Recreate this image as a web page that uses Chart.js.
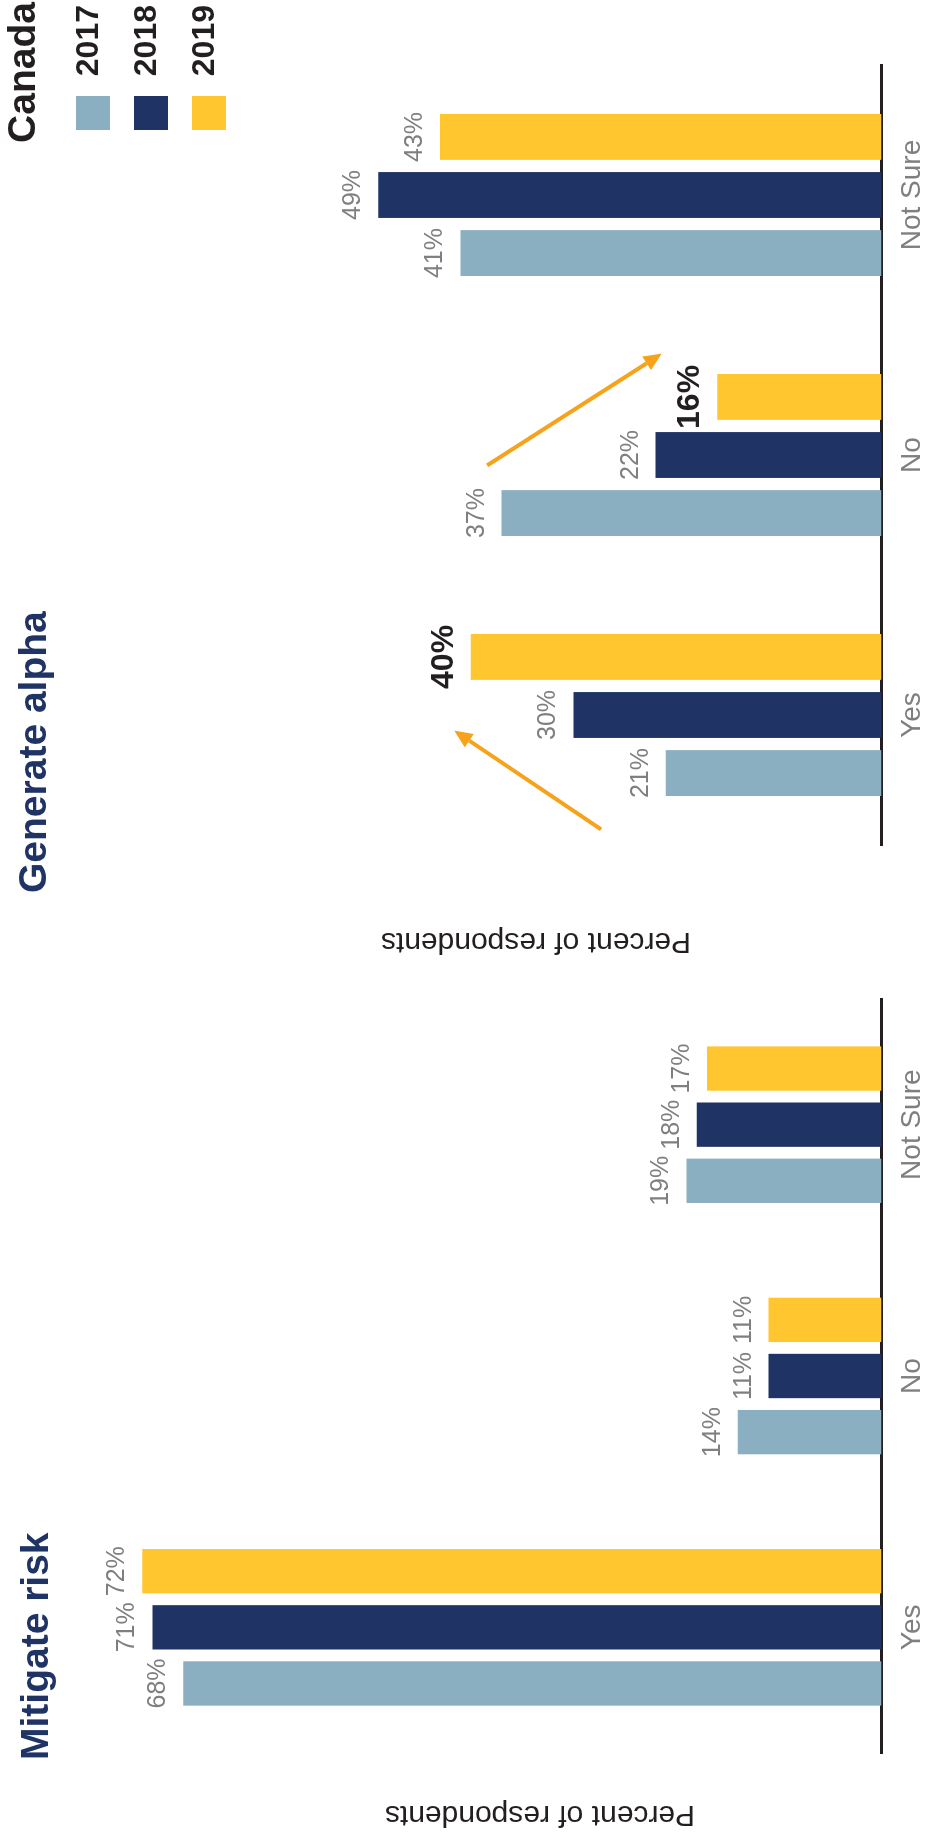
<!DOCTYPE html>
<html>
<head>
<meta charset="utf-8">
<script src="https://cdn.jsdelivr.net/npm/chart.js@4.4.1/dist/chart.umd.min.js"></script>
<style>
  html, body { margin: 0; padding: 0; background: #fff; }
  body { width: 930px; height: 1836px; overflow: hidden; position: relative; }
  /* the two panels are laid out landscape, then turned to fit the portrait page */
  #sheet { position: absolute; left: 0; top: 0; width: 1836px; height: 930px;
           transform-origin: 0 0; transform: translateY(1836px) rotate(-90deg); }
  #sheet canvas { position: absolute; top: 0; }
  #riskChart { left: 0; }
  #alphaChart { left: 870px; }
</style>
</head>
<body>
<div id="sheet">
  <canvas id="riskChart" width="870" height="930"></canvas>
  <canvas id="alphaChart" width="966" height="930"></canvas>
</div>
<script>
const categories = ['Yes', 'No', 'Not Sure'];
const years = ['2017', '2018', '2019'];

// Mitigate risk, percent of respondents
const risk2017 = [68, 14, 19];
const risk2018 = [71, 11, 18];
const risk2019 = [72, 11, 17];

// Generate alpha, percent of respondents
const alpha2017 = [21, 37, 41];
const alpha2018 = [30, 22, 49];
const alpha2019 = [40, 16, 43];

const yearColors = ['#8AAFC0', '#1F3464', '#FFC62F'];
const FONT = '"Liberation Sans", Arial, sans-serif';

Chart.defaults.font.family = FONT;

// arrows drawn over the alpha panel: [category, offset in category widths, value]
const alphaArrows = [
  { from: [0, -0.44, 27.3], to: [0, -0.06, 41.6] },
  { from: [1, -0.04, 38.4], to: [1, 0.39, 21.4] }
];

function makeDatasets(series) {
  return series.map((data, i) => ({
    label: years[i],
    data: data,
    backgroundColor: yearColors[i],
    borderWidth: 0,
    categoryPercentage: 0.67,
    barPercentage: 0.79
  }));
}

// value labels above every bar, with some called out in bold
const makeBarValues = (highlight) => ({
  id: 'barValues',
  afterDatasetsDraw(chart) {
    const ctx = chart.ctx;
    ctx.save();
    ctx.textAlign = 'center';
    ctx.textBaseline = 'alphabetic';
    chart.data.datasets.forEach((ds, i) => {
      chart.getDatasetMeta(i).data.forEach((bar, j) => {
        const hot = highlight.some(h => h[0] === i && h[1] === j);
        ctx.font = hot ? 'bold 32px ' + FONT : '25px ' + FONT;
        ctx.fillStyle = hot ? '#231F20' : '#7F7F7F';
        ctx.fillText(ds.data[j] + '%', bar.x, bar.y - 18);
      });
    });
    ctx.restore();
  }
});

// panel heading and the vertical axis title
const makePanelText = (p) => ({
  id: 'panelText',
  afterDraw(chart) {
    const ctx = chart.ctx;
    ctx.save();
    ctx.font = 'bold 39px ' + FONT;
    ctx.fillStyle = '#1F3464';
    ctx.textAlign = 'left';
    ctx.textBaseline = 'alphabetic';
    ctx.fillText(p.title, p.titleX, p.titleY);

    ctx.translate(p.axisX, p.axisY);
    ctx.rotate(-Math.PI / 2);
    ctx.font = '30px ' + FONT;
    ctx.fillStyle = '#231F20';
    ctx.textAlign = 'center';
    ctx.fillText('Percent of respondents', 0, 0);
    ctx.restore();
  }
});

const arrowPlugin = {
  id: 'arrows',
  afterDatasetsDraw(chart) {
    const ctx = chart.ctx;
    const xs = chart.scales.x, ys = chart.scales.y;
    const cw = xs.width / categories.length;
    const pt = (a) => [xs.getPixelForValue(a[0]) + a[1] * cw, ys.getPixelForValue(a[2])];
    ctx.save();
    ctx.strokeStyle = '#F6A31B';
    ctx.fillStyle = '#F6A31B';
    ctx.lineWidth = 4;
    alphaArrows.forEach(a => {
      const [x0, y0] = pt(a.from);
      const [x1, y1] = pt(a.to);
      const ang = Math.atan2(y1 - y0, x1 - x0);
      const head = 18, half = 8;
      const bx = x1 - head * Math.cos(ang), by = y1 - head * Math.sin(ang);
      ctx.beginPath();
      ctx.moveTo(x0, y0);
      ctx.lineTo(bx, by);
      ctx.stroke();
      ctx.beginPath();
      ctx.moveTo(x1, y1);
      ctx.lineTo(bx + half * Math.sin(ang), by - half * Math.cos(ang));
      ctx.lineTo(bx - half * Math.sin(ang), by + half * Math.cos(ang));
      ctx.closePath();
      ctx.fill();
    });
    ctx.restore();
  }
};

const legendPlugin = {
  id: 'canadaLegend',
  afterDraw(chart) {
    const ctx = chart.ctx;
    ctx.save();
    ctx.textBaseline = 'alphabetic';
    ctx.textAlign = 'right';
    ctx.fillStyle = '#231F20';
    ctx.font = 'bold 39px ' + FONT;
    ctx.fillText('Canada', 964, 35);
    ctx.font = 'bold 32px ' + FONT;
    chart.data.datasets.forEach((ds, i) => {
      const top = 76 + i * 58;
      ctx.fillStyle = ds.backgroundColor;
      ctx.fillRect(836, top, 34, 34);
      ctx.fillStyle = '#231F20';
      ctx.fillText(ds.label, 961, top + 22);
    });
    ctx.restore();
  }
};

function baseOptions(pad) {
  return {
    responsive: false,
    animation: false,
    layout: { padding: pad },
    plugins: { legend: { display: false }, tooltip: { enabled: false }, title: { display: false } },
    scales: {
      x: {
        grid: { display: false, drawTicks: false },
        border: { display: true, color: '#231F20', width: 3 },
        ticks: { color: '#7F7F7F', font: { size: 28 }, padding: 14 },
        afterFit: (s) => { s.height = 48.5; }
      },
      y: { display: false, min: 0, max: 80 }
    }
  };
}

new Chart(document.getElementById('riskChart'), {
  type: 'bar',
  data: { labels: categories, datasets: makeDatasets([risk2017, risk2018, risk2019]) },
  options: baseOptions({ left: 83, right: 33, top: 60, bottom: 0 }),
  plugins: [
    makeBarValues([]),
    makePanelText({ title: 'Mitigate risk', titleX: 76, titleY: 48, axisX: 30, axisY: 540 })
  ]
});

new Chart(document.getElementById('alphaChart'), {
  type: 'bar',
  data: { labels: categories, datasets: makeDatasets([alpha2017, alpha2018, alpha2019]) },
  options: baseOptions({ left: 121, right: 65, top: 60, bottom: 0 }),
  plugins: [
    makeBarValues([[2, 0], [2, 1]]),
    arrowPlugin,
    makePanelText({ title: 'Generate alpha', titleX: 73, titleY: 46, axisX: 33, axisY: 536 }),
    legendPlugin
  ]
});
</script>
</body>
</html>
